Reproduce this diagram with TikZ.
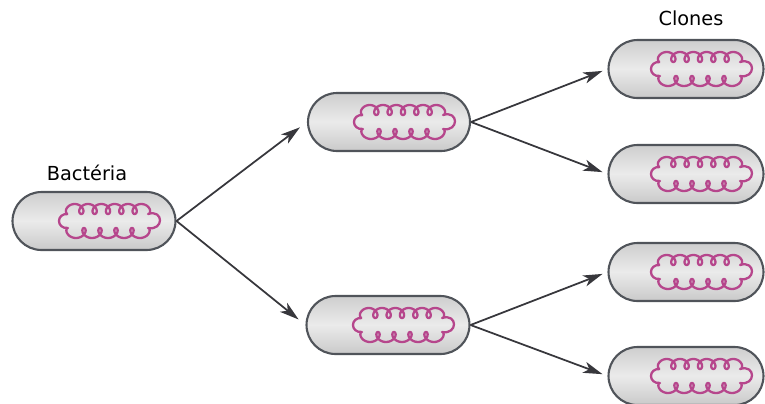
\documentclass[tikz,border=0pt]{standalone}
\usepackage{fontspec}
\setmainfont{DejaVu Sans}
\usepackage{tikz}
\usetikzlibrary{positioning}
\usetikzlibrary{arrows.meta}

\definecolor{dnapink}{RGB}{182,70,140}
\definecolor{wallgray}{RGB}{80,84,90}
\definecolor{arrowgray}{RGB}{55,55,60}

\begin{document}
\begin{tikzpicture}[x=0.02cm, y=-0.02cm,
    font=\fontsize{11}{13}\selectfont]

        \useasboundingbox (0,0) rectangle (765,403);

        % one rod-shaped cell, the DNA loops are added as a pic
        \tikzset{
            cell/.style={draw=wallgray, line width=1.2pt,
                minimum height=1.16cm, rounded corners=.58cm,
                top color=gray!38, bottom color=gray!42,
                middle color=gray!16},
            arr/.style={-{Stealth[length=11pt,width=6.5pt,inset=3pt]},
                line width=1pt, draw=arrowgray, shorten >=5pt},
            dna/.pic={
                % upper row of curls, then lower row back to the left
                \draw[dnapink, line width=1.3pt, line join=round]
                    plot[smooth, domain=0:2160, samples=160]
                    ({-40+\x/27-5*sin(\x)}, {-12+5*cos(\x)})
                    .. controls (56,-12) and (56,10) .. (40,7)
                    -- plot[smooth, domain=0:1800, samples=130]
                    ({40-\x/22.5+5*sin(\x)}, {12-5*cos(\x)})
                    .. controls (-52,8) and (-52,-8) .. (-40,-7);
            }
        }

        \begin{scope}
            \node[cell, minimum width=3.26cm] (B0) at (94,221) {};
            \node[cell, minimum width=3.24cm] (M1) at (389,122) {};
            \node[cell, minimum width=3.26cm] (M2) at (388,325) {};
            \node[cell, minimum width=3.1cm] (C1) at (686,69) {};
            \node[cell, minimum width=3.1cm] (C2) at (686,174) {};
            \node[cell, minimum width=3.1cm] (C3) at (686,272) {};
            \node[cell, minimum width=3.1cm] (C4) at (686,376) {};

            \node (lblB) [above=2.5pt of B0, xshift=-.14cm]
            {Bactéria};
            \node (lblC) [above=4pt of C1, xshift=.1cm] {Clones};
        \end{scope}

        % chromosome inside every cell
        \foreach\c in {B0,M1,M2,C1,C2,C3,C4}
        \pic at ([xshift=.28cm]\c.center) {dna};

        \begin{scope}
            \draw[arr] (B0.east) -- (M1.west);
            \draw[arr] (B0.east) -- (M2.west);
            \foreach\x in {1,2}
            \draw[arr, shorten >=3pt] (M1.east) -- (C\x.west);
            \foreach\x in {3,4}
            \draw[arr, shorten >=3pt] (M2.east) -- (C\x.west);
        \end{scope}

\end{tikzpicture}
\end{document}
